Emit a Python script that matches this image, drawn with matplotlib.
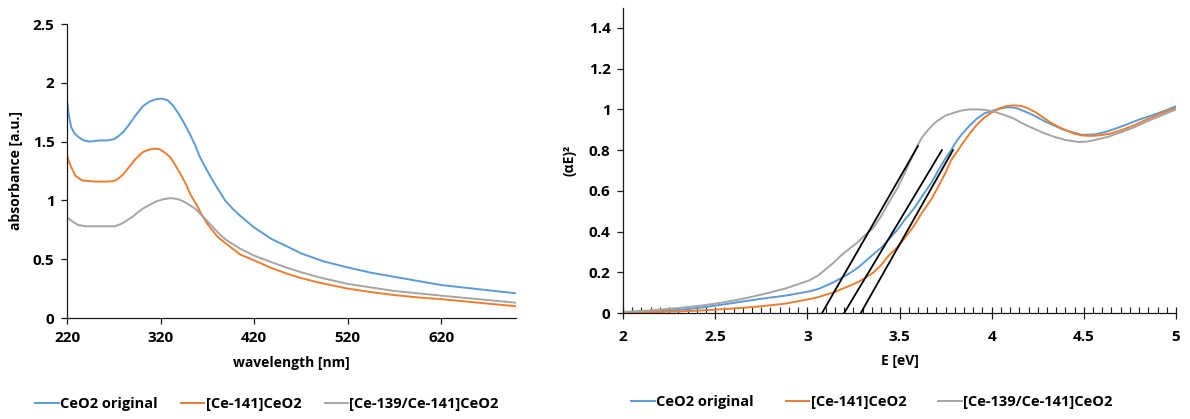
import matplotlib
matplotlib.use("Agg")
import matplotlib.pyplot as plt
from matplotlib.ticker import MultipleLocator, FuncFormatter

plt.rcParams['font.family'] = ['Open Sans', 'DejaVu Sans']
plt.rcParams['font.weight'] = 'bold'

# ---------------- data: left panel (absorbance vs wavelength) ----------------
wl = [220, 222, 224.6, 228, 232, 238, 244, 255, 263, 270, 274, 280, 286, 293, 301, 308,
      315, 322, 328, 334, 339, 345, 351, 357, 362, 370, 378, 389, 397, 405, 420, 439, 455,
      470, 495, 520, 545, 570, 595, 620, 660, 700]
abs_orig = [1.85, 1.72, 1.62, 1.57, 1.54, 1.51, 1.50, 1.51, 1.51, 1.52, 1.54, 1.58, 1.64,
            1.72, 1.80, 1.84, 1.86, 1.865, 1.85, 1.80, 1.74, 1.66, 1.57, 1.47, 1.37, 1.25,
            1.14, 1.00, 0.93, 0.87, 0.77, 0.67, 0.61, 0.55, 0.48, 0.43, 0.385, 0.35, 0.315,
            0.28, 0.245, 0.21]
wl_o = [220, 222, 224.6, 229, 236, 250, 263, 270, 274, 280, 286, 293, 301, 307, 313, 319,
        324, 330, 335, 341, 347, 352, 358, 364, 370, 376, 381, 392, 405, 420, 437, 454, 470,
        490, 520, 545, 570, 595, 620, 660, 700]
abs_141 = [1.39, 1.33, 1.28, 1.21, 1.17, 1.16, 1.16, 1.165, 1.18, 1.22, 1.28, 1.35, 1.41,
           1.43, 1.44, 1.435, 1.41, 1.37, 1.31, 1.23, 1.14, 1.05, 0.97, 0.88, 0.80, 0.74,
           0.69, 0.62, 0.54, 0.49, 0.43, 0.38, 0.34, 0.30, 0.25, 0.22, 0.195, 0.175, 0.16,
           0.13, 0.10]
wl_g = [220, 226, 232, 240, 248, 260, 271, 278, 284, 290, 296, 301, 308, 315, 323, 331, 339,
        345, 351, 357, 362, 368, 374, 381, 389, 397, 405, 420, 437, 454, 470, 490, 520, 545,
        570, 595, 620, 660, 700]
abs_139 = [0.855, 0.82, 0.79, 0.78, 0.78, 0.78, 0.78, 0.80, 0.83, 0.86, 0.90, 0.93, 0.96,
           0.99, 1.01, 1.02, 1.01, 0.99, 0.96, 0.93, 0.89, 0.84, 0.79, 0.73, 0.67, 0.63, 0.59,
           0.53, 0.48, 0.43, 0.39, 0.345, 0.29, 0.26, 0.23, 0.21, 0.19, 0.16, 0.13]

# ---------------- data: right panel (Tauc plot) ----------------
E_b = [2.0, 2.15, 2.31, 2.42, 2.53, 2.64, 2.75, 2.88, 3.01, 3.06, 3.10, 3.14, 3.18, 3.22,
       3.27, 3.31, 3.36, 3.40, 3.44, 3.49, 3.53, 3.58, 3.62, 3.67, 3.71, 3.75, 3.78, 3.81,
       3.84, 3.88, 3.92, 3.96, 4.01, 4.05, 4.08, 4.11, 4.14, 4.18, 4.23, 4.28, 4.34, 4.39,
       4.43, 4.49, 4.56, 4.62, 4.67, 4.73, 4.80, 4.90, 5.0]
tauc_orig = [0.003, 0.008, 0.016, 0.026, 0.04, 0.055, 0.07, 0.085, 0.106, 0.118, 0.134,
             0.15, 0.17, 0.19, 0.22, 0.25, 0.29, 0.32, 0.36, 0.41, 0.46, 0.515, 0.57, 0.635,
             0.70, 0.76, 0.80, 0.845, 0.88, 0.92, 0.955, 0.98, 0.995, 1.005, 1.01, 1.01,
             1.005, 0.99, 0.97, 0.945, 0.92, 0.90, 0.89, 0.875, 0.877, 0.89, 0.905, 0.925,
             0.95, 0.98, 1.015]
E_o = [2.0, 2.15, 2.31, 2.42, 2.53, 2.64, 2.75, 2.88, 3.01, 3.06, 3.10, 3.14, 3.18, 3.22,
       3.27, 3.31, 3.36, 3.40, 3.44, 3.49, 3.53, 3.58, 3.62, 3.67, 3.71, 3.75, 3.78, 3.81,
       3.84, 3.88, 3.92, 3.96, 4.01, 4.05, 4.08, 4.12, 4.16, 4.19, 4.24, 4.28, 4.32, 4.36,
       4.41, 4.45, 4.49, 4.54, 4.58, 4.64, 4.71, 4.78, 4.84, 4.92, 5.0]
tauc_141 = [0.002, 0.004, 0.008, 0.012, 0.018, 0.025, 0.033, 0.046, 0.068, 0.078, 0.09,
            0.10, 0.115, 0.13, 0.15, 0.17, 0.20, 0.235, 0.28, 0.325, 0.37, 0.43, 0.49,
            0.555, 0.62, 0.69, 0.75, 0.79, 0.83, 0.88, 0.925, 0.96, 0.99, 1.008, 1.016, 1.02,
            1.017, 1.008, 0.985, 0.96, 0.935, 0.915, 0.895, 0.88, 0.872, 0.87, 0.872, 0.88,
            0.90, 0.925, 0.95, 0.98, 1.008]
E_g = [2.0, 2.15, 2.31, 2.42, 2.53, 2.64, 2.75, 2.88, 3.01, 3.06, 3.10, 3.14, 3.18, 3.22,
       3.27, 3.31, 3.36, 3.40, 3.44, 3.49, 3.53, 3.56, 3.585, 3.62, 3.66, 3.70, 3.75, 3.80,
       3.84, 3.88, 3.92, 3.96, 4.01, 4.06, 4.12, 4.17, 4.23, 4.28, 4.34, 4.40, 4.47, 4.52,
       4.56, 4.63, 4.71, 4.78, 4.84, 4.92, 5.0]
tauc_139 = [0.005, 0.013, 0.025, 0.036, 0.05, 0.068, 0.09, 0.12, 0.16, 0.185, 0.215, 0.245,
            0.28, 0.31, 0.345, 0.38, 0.42, 0.475, 0.54, 0.615, 0.69, 0.75, 0.80, 0.86, 0.905,
            0.94, 0.97, 0.985, 0.995, 1.0, 1.0, 0.998, 0.99, 0.975, 0.955, 0.93, 0.905, 0.885,
            0.865, 0.85, 0.84, 0.842, 0.85, 0.865, 0.89, 0.915, 0.94, 0.97, 1.0]

# tangent (band-gap extrapolation) lines: [E_start, E_end], [y_start, y_end]
tan1_E, tan1_y = [3.08, 3.60], [0.0, 0.82]
tan2_E, tan2_y = [3.20, 3.73], [0.0, 0.80]
tan3_E, tan3_y = [3.29, 3.79], [0.0, 0.80]

xticks_left = [220, 320, 420, 520, 620]
labels = ["CeO2 original", "[Ce-141]CeO2", "[Ce-139/Ce-141]CeO2"]
colors = ["#5B9BD5", "#ED7D31", "#A5A5A5"]

W, H = 1190, 419
fig = plt.figure(figsize=(W / 100, H / 100), dpi=100)

def box(x0, x1, ytop, ybot):
    return [x0 / W, (H - ybot) / H, (x1 - x0) / W, (ybot - ytop) / H]

fmt = FuncFormatter(lambda v, p: "%g" % round(v, 3))
lw = 1.4
TICK_FS = 11
LAB_FS = 10
LEG_FS = 10.5

# ---------------- left panel ----------------
ax1 = fig.add_axes(box(67, 516, 24, 318))
ax1.plot(wl, abs_orig, color=colors[0], lw=lw, label=labels[0])
ax1.plot(wl_o, abs_141, color=colors[1], lw=lw, label=labels[1])
ax1.plot(wl_g, abs_139, color=colors[2], lw=lw, label=labels[2])
ax1.set_xlim(220, 700)
ax1.set_ylim(0, 2.5)
ax1.set_xticks(xticks_left)
ax1.yaxis.set_major_locator(MultipleLocator(0.5))
ax1.yaxis.set_major_formatter(fmt)
ax1.set_xlabel("wavelength [nm]", fontsize=LAB_FS, fontweight='bold', labelpad=8)
ax1.set_ylabel("absorbance [a.u.]", fontsize=LAB_FS, fontweight='bold', labelpad=7)
ax1.legend(loc='center', bbox_to_anchor=(267 / W, 1 - 404 / H), bbox_transform=fig.transFigure,
           ncol=3, frameon=False, handlelength=1.6, handletextpad=0.1,
           columnspacing=1.6, prop={'weight': 'bold', 'size': LEG_FS})

# ---------------- right panel ----------------
ax2 = fig.add_axes(box(623, 1176, 7.6, 313))
ax2.plot(E_b, tauc_orig, color=colors[0], lw=lw, label=labels[0])
ax2.plot(E_o, tauc_141, color=colors[1], lw=lw, label=labels[1])
ax2.plot(E_g, tauc_139, color=colors[2], lw=lw, label=labels[2])
for te, ty in [(tan1_E, tan1_y), (tan2_E, tan2_y), (tan3_E, tan3_y)]:
    ax2.plot(te, ty, color='black', lw=1.3)
ax2.set_xlim(2, 5)
ax2.set_ylim(0, 1.5)
ax2.xaxis.set_major_locator(MultipleLocator(0.5))
ax2.xaxis.set_minor_locator(MultipleLocator(0.05))
ax2.set_yticks([0, 0.2, 0.4, 0.6, 0.8, 1.0, 1.2, 1.4])
ax2.xaxis.set_major_formatter(fmt)
ax2.yaxis.set_major_formatter(fmt)
ax2.set_xlabel("E [eV]", fontsize=LAB_FS, fontweight='bold', labelpad=7)
ax2.set_ylabel("(αE)²", fontsize=LAB_FS, fontweight='bold', labelpad=9)
ax2.legend(loc='center', bbox_to_anchor=(872 / W, 1 - 402 / H), bbox_transform=fig.transFigure,
           ncol=3, frameon=False, handlelength=1.6, handletextpad=0.1,
           columnspacing=2.2, prop={'weight': 'bold', 'size': LEG_FS})

for ax in (ax1, ax2):
    for s in ('top', 'right'):
        ax.spines[s].set_visible(False)
    for s in ('left', 'bottom'):
        ax.spines[s].set_color('#1a1a1a')
        ax.spines[s].set_linewidth(0.9)
    ax.tick_params(axis='both', which='major', labelsize=TICK_FS, color='#1a1a1a',
                   width=0.9, pad=5)
    for lab in ax.get_xticklabels() + ax.get_yticklabels():
        lab.set_fontweight('bold')

ax1.tick_params(axis='both', which='major', direction='out', length=4)
ax2.tick_params(axis='y', which='major', direction='out', length=4)
ax2.tick_params(axis='x', which='major', direction='inout', length=9, pad=8)
ax2.tick_params(axis='x', which='minor', direction='in', length=4, width=0.8, color='#1a1a1a')

fig.savefig("out.png", dpi=100, facecolor='white')
